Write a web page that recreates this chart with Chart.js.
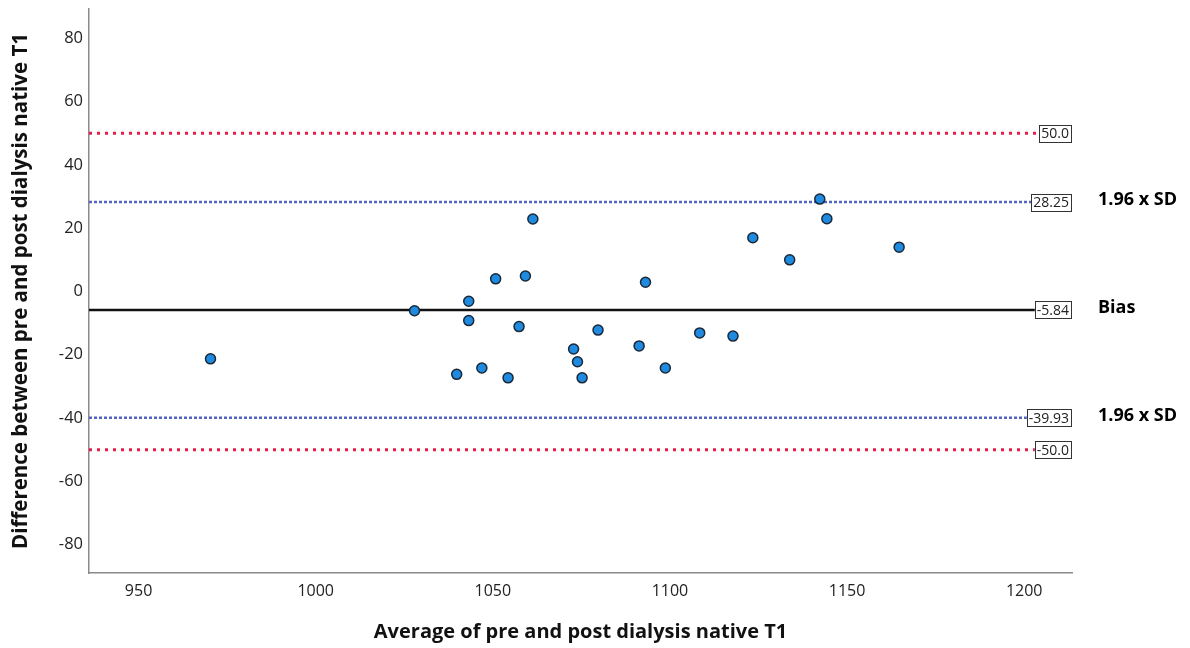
<!DOCTYPE html>
<html>
<head>
<meta charset="utf-8">
<script src="https://cdn.jsdelivr.net/npm/chart.js@4/dist/chart.umd.min.js"></script>
<style>
  html, body { margin: 0; padding: 0; background: #fff; }
</style>
</head>
<body>
<canvas id="chart" width="1190" height="648"></canvas>
<script>
// average of pre and post dialysis native T1 (x) and their difference (y)
const avgValues = [970.3, 1027.9, 1043.2, 1043.2, 1039.8, 1046.9, 1050.8, 1054.3, 1059.2, 1057.4,
                   1061.3, 1072.8, 1073.9, 1075.2, 1079.7, 1091.3, 1093.1, 1098.7, 1108.4, 1117.8,
                   1123.4, 1133.8, 1142.3, 1144.3, 1164.7];
const diffValues = [-21.3, -6.1, -3.1, -9.2, -26.2, -24.2, 4.0, -27.3, 4.9, -11.1,
                    22.9, -18.2, -22.2, -27.3, -12.2, -17.2, 2.9, -24.2, -13.1, -14.1,
                    17.0, 10.0, 29.2, 23.0, 14.0];

// reference lines
const limitValues = [50, 28.25, -5.84, -39.93, -50];
const limitLabels = ['50.0', '28.25', '-5.84', '-39.93', '-50.0'];
const limitKinds = ['limit', 'sd', 'bias', 'sd', 'limit'];
const sideLabels = ['', '1.96 x SD', 'Bias', '1.96 x SD', ''];

const xTicks = [950, 1000, 1050, 1100, 1150, 1200];
const yTicks = [-80, -60, -40, -20, 0, 20, 40, 60, 80];
const xMin = 936, xMax = 1213.5;
const yMin = -89, yMax = 89.3;

const lineStyles = {
  limit: { borderColor: '#e3204c', borderWidth: 3, borderDash: [3, 5] },
  sd:    { borderColor: '#5464c4', borderWidth: 2.5, borderDash: [3, 2] },
  bias:  { borderColor: '#111111', borderWidth: 2.5, borderDash: [] },
};

const refDatasets = limitValues.map((v, i) => ({
  type: 'line',
  data: [{ x: xMin, y: v }, { x: xMax, y: v }],
  pointRadius: 0,
  fill: false,
  order: 2,
  ...lineStyles[limitKinds[i]],
}));

const limitLabelPlugin = {
  id: 'limitLabels',
  afterDatasetsDraw(chart) {
    const { ctx, chartArea, scales } = chart;
    ctx.save();
    limitValues.forEach((v, i) => {
      const y = scales.y.getPixelForValue(v);
      ctx.font = '14px "Open Sans", sans-serif';
      const w = ctx.measureText(limitLabels[i]).width + 4;
      const h = 17;
      const x1 = chartArea.right - 1;
      ctx.fillStyle = '#ffffff';
      ctx.fillRect(x1 - w, y - h / 2, w, h);
      ctx.strokeStyle = '#333';
      ctx.lineWidth = 1;
      ctx.strokeRect(Math.round(x1 - w) + 0.5, Math.round(y - h / 2) + 0.5, Math.round(w), h);
      ctx.fillStyle = '#222';
      ctx.textAlign = 'right';
      ctx.textBaseline = 'middle';
      ctx.fillText(limitLabels[i], x1 - 2, y + 1);
      if (sideLabels[i]) {
        ctx.font = 'bold 18px "Open Sans", sans-serif';
        ctx.fillStyle = '#000';
        ctx.textAlign = 'left';
        ctx.fillText(sideLabels[i], chartArea.right + 26, y - 2);
      }
    });
    ctx.restore();
  }
};

new Chart(document.getElementById('chart'), {
  data: {
    datasets: [
      {
        type: 'scatter',
        data: avgValues.map((x, i) => ({ x: x, y: diffValues[i] })),
        backgroundColor: '#1f8be0',
        borderColor: '#1b2838',
        borderWidth: 1.5,
        pointRadius: 5,
        order: 0,
      },
      ...refDatasets,
    ]
  },
  options: {
    responsive: false,
    animation: false,
    layout: { padding: { left: 0, right: 118, top: 9, bottom: 0 } },
    plugins: {
      legend: { display: false },
      tooltip: { enabled: false },
    },
    scales: {
      x: {
        type: 'linear',
        min: xMin,
        max: xMax,
        afterBuildTicks: (scale) => { scale.ticks = xTicks.map(v => ({ value: v })); },
        afterFit: (scale) => { scale.height = 75; scale.paddingLeft = 0; scale.paddingRight = 0; },
        grid: { display: false, drawTicks: false },
        border: { display: true, color: '#8a8a8a', width: 1.5 },
        ticks: {
          padding: 9,
          color: '#222',
          font: { family: '"Open Sans", sans-serif', size: 16 },
          callback: (v) => String(v),
        },
        title: {
          display: true,
          text: 'Average of pre and post dialysis native T1',
          color: '#111',
          font: { family: '"Open Sans", sans-serif', size: 20, weight: 'bold' },
          padding: { top: 0, bottom: 4 },
        },
      },
      y: {
        type: 'linear',
        min: yMin,
        max: yMax,
        afterBuildTicks: (scale) => { scale.ticks = yTicks.map(v => ({ value: v })); },
        afterFit: (scale) => { scale.width = 89; scale.paddingTop = 0; scale.paddingBottom = 0; },
        grid: { display: false, drawTicks: false },
        border: { display: true, color: '#8a8a8a', width: 1.5 },
        ticks: {
          padding: 6,
          color: '#222',
          font: { family: '"Open Sans", sans-serif', size: 16.5 },
        },
        title: {
          display: true,
          text: 'Difference between pre and post dialysis native T1',
          color: '#111',
          font: { family: '"Open Sans", sans-serif', size: 20.5, weight: 'bold' },
          padding: { top: 9, bottom: 0 },
        },
      },
    },
  },
  plugins: [limitLabelPlugin],
});
</script>
</body>
</html>
